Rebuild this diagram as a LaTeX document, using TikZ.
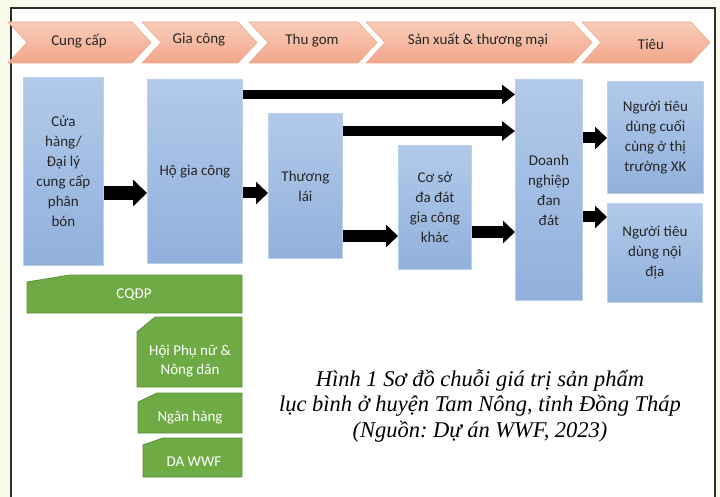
\documentclass[tikz,border=0pt]{standalone}
\usepackage{fontspec}
\setmainfont{Carlito}
\newfontfamily\capfont{Liberation Serif}
\usetikzlibrary{arrows.meta}
\frenchspacing
\definecolor{PageCream}{HTML}{F8F8EB}
\definecolor{FrameGray}{HTML}{2E2E2E}
\definecolor{PhaseTop}{HTML}{F9CDB9}
\definecolor{PhaseBottom}{HTML}{F2A68A}
\definecolor{PhaseEdge}{HTML}{EFAA90}
\definecolor{ActorTop}{HTML}{B2CAEA}
\definecolor{ActorBottom}{HTML}{91B0DC}
\definecolor{ActorEdge}{HTML}{BCD0EA}
\definecolor{SupportGreen}{HTML}{6EAB45}
\definecolor{SupportEdge}{HTML}{5B9238}

\begin{document}
\begin{tikzpicture}[x=1pt,y=-1pt,
  phase/.style={top color=PhaseTop,bottom color=PhaseBottom,draw=PhaseEdge,line width=0.6pt},
  phaselabel/.style={font=\fontsize{15}{18}\selectfont,text=black!85},
  actor/.style={rectangle,top color=ActorTop,bottom color=ActorBottom,draw=ActorEdge,line width=0.8pt,align=center,inner sep=0pt,anchor=north west,font=\fontsize{15}{20}\selectfont,text=black!85},
  support/.style={fill=SupportGreen,draw=SupportEdge,line width=0.8pt},
  supportlabel/.style={align=center,text=white,font=\fontsize{15}{19}\selectfont},
  bigflow/.style={line width=14pt,-{Triangle[length=14pt,width=26pt]}},
  flow/.style={line width=11pt,-{Triangle[length=12pt,width=22pt]}},
  thinflow/.style={line width=9.5pt,-{Triangle[length=13pt,width=19pt]}}
]
\useasboundingbox (0,0) rectangle (720,497);
\fill[PageCream] (0,0) rectangle (720,497);
\fill[white] (11,8) rectangle (715,497);
\draw[FrameGray,line width=1.6pt] (11,497) -- (11,8) -- (715,8) -- (715,497);

\path[phase] (8,22) -- (132,22) -- (151,42.5) -- (132,63) -- (8,63) -- (27,42.5) -- cycle;
\path[phase] (142,22) -- (238,22) -- (257,42.5) -- (238,63) -- (142,63) -- (161,42.5) -- cycle;
\path[phase] (249,22) -- (358,22) -- (377,42.5) -- (358,63) -- (249,63) -- (268,42.5) -- cycle;
\path[phase] (366,22) -- (573,22) -- (592,42.5) -- (573,63) -- (366,63) -- (385,42.5) -- cycle;
\path[phase] (582,22) -- (691,22) -- (710,42.5) -- (691,63) -- (582,63) -- (601,42.5) -- cycle;
\node[phaselabel] (cungcap) at (79,41) {Cung cấp};
\node[phaselabel] (giacong) at (199,40) {Gia công};
\node[phaselabel] (thugom) at (312,41) {Thu gom};
\node[phaselabel] (sanxuat) at (478,40) {Sản xuất \& thương mại};
\node[phaselabel] (tieu) at (651,44) {Tiêu};

\node[actor,minimum width=80pt,minimum height=188pt] (cuahang) at (23,77) {Cửa\\hàng/\\Đại lý\\cung cấp\\phân\\bón};
\node[actor,minimum width=95pt,minimum height=184pt] (hogiacong) at (147,79) {Hộ gia công};
\node[actor,minimum width=74pt,minimum height=145pt] (thuonglai) at (268,113) {Thương\\lái};
\node[actor,minimum width=73pt,minimum height=124pt] (coso) at (398,145) {Cơ sở\\đa đát\\gia công\\khác};
\node[actor,minimum width=67pt,minimum height=221pt] (doanhnghiep) at (515,79) {Doanh\\nghiệp\\đan\\đát};
\node[actor,minimum width=96pt,minimum height=112pt] (xuatkhau) at (607,81) {Người tiêu\\dùng cuối\\cùng ở thị\\trường XK};
\node[actor,minimum width=95pt,minimum height=99pt] (noidia) at (607,203) {Người tiêu\\dùng nội\\địa};

\coordinate (rowA) at (0,94.5);
\coordinate (rowB) at (0,131);
\coordinate (rowC) at (0,138);
\coordinate (rowD) at (0,193);
\coordinate (rowE) at (0,217);
\coordinate (rowF) at (0,236);
\coordinate (rowG) at (0,232);
\draw[bigflow] (cuahang.east |- rowD) -- (hogiacong.west |- rowD);
\draw[flow] (hogiacong.east |- rowD) -- (thuonglai.west |- rowD);
\draw[thinflow] (hogiacong.east |- rowA) -- (doanhnghiep.west |- rowA);
\draw[thinflow] (thuonglai.east |- rowB) -- (doanhnghiep.west |- rowB);
\draw[flow] (thuonglai.east |- rowF) -- (coso.west |- rowF);
\draw[flow] (coso.east |- rowG) -- (doanhnghiep.west |- rowG);
\draw[flow] (doanhnghiep.east |- rowC) -- (xuatkhau.west |- rowC);
\draw[flow] (doanhnghiep.east |- rowE) -- (noidia.west |- rowE);

\path[support] (27,282) -- (70,275) -- (242,275) -- (242,313) -- (27,313) -- cycle;
\path[support] (137,332) -- (155,317) -- (242,317) -- (242,387) -- (137,387) -- cycle;
\path[support] (138,402) -- (157,393) -- (242,393) -- (242,433) -- (138,433) -- cycle;
\path[support] (143,445) -- (163,438) -- (242,438) -- (242,477) -- (143,477) -- cycle;
\node[supportlabel] (cqdp) at (134,295) {CQĐP};
\node[supportlabel] (hoi) at (190,361) {Hội Phụ nữ \&\\Nông dân};
\node[supportlabel] (nganhang) at (190,418) {Ngân hàng};
\node[supportlabel] (dawwf) at (194,462) {DA WWF};

\node[align=center,font=\capfont\itshape\fontsize{22.5}{25.5}\selectfont] (caption) at (480,406) {Hình 1 Sơ đồ chuỗi giá trị sản phẩm\\lục bình ở huyện Tam Nông, tỉnh Đồng Tháp\\(Nguồn: Dự án WWF, 2023)};
\end{tikzpicture}
\end{document}
